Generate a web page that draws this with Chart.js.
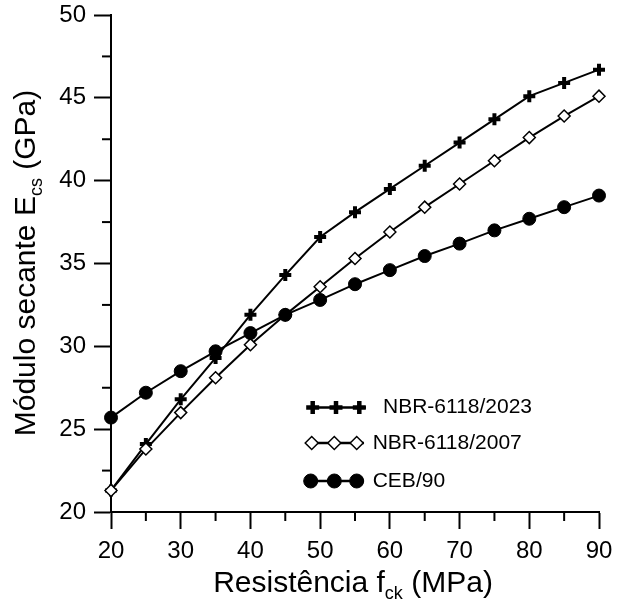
<!DOCTYPE html>
<html>
<head>
<meta charset="utf-8">
<script src="https://cdn.jsdelivr.net/npm/chart.js@4/dist/chart.umd.min.js"></script>
<style>
  html, body { margin: 0; padding: 0; background: #fff; }
  #wrap { width: 623px; height: 600px; }
</style>
</head>
<body>
<div id="wrap"><canvas id="modulo" width="623" height="600"></canvas></div>
<script>
// fck (MPa)
const fck = [20, 25, 30, 35, 40, 45, 50, 55, 60, 65, 70, 75, 80, 85, 90];
// Ecs (GPa) per norma
const nbr2023 = [21.3, 24.1, 26.8, 29.3, 31.9, 34.3, 36.6, 38.1, 39.5, 40.9, 42.3, 43.7, 45.1, 45.9, 46.7];
const nbr2007 = [21.3, 23.8, 26.0, 28.1, 30.1, 31.9, 33.6, 35.3, 36.9, 38.4, 39.8, 41.2, 42.6, 43.9, 45.1];
const ceb90 = [25.7, 27.2, 28.5, 29.7, 30.8, 31.9, 32.8, 33.75, 34.6, 35.45, 36.2, 37.0, 37.7, 38.4, 39.1];
const xTicks = [20, 30, 40, 50, 60, 70, 80, 90];
const yTicks = [20, 25, 30, 35, 40, 45, 50];
const legendNames = ['NBR-6118/2023', 'NBR-6118/2007', 'CEB/90'];

const FONT = '"Liberation Sans", Arial, sans-serif';

function pares(ys) {
    return fck.map((x, i) => ({ x: x, y: ys[i] }));
}

const estilos = [
    { pointStyle: 'cross', radius: 6, borderWidth: 4, fill: '#000' },
    { pointStyle: 'rectRot', radius: 6, borderWidth: 1.5, fill: '#fff' },
    { pointStyle: 'circle', radius: 6.5, borderWidth: 1, fill: '#000' }
];

// ticks menores + titulos com subscrito + legenda
const extras = {
    id: 'extras',
    afterDraw(chart) {
        const ctx = chart.ctx;
        const xs = chart.scales.x, ys = chart.scales.y;
        const area = chart.chartArea;
        ctx.save();
        ctx.strokeStyle = '#000';
        ctx.lineWidth = 2;
        for (let v = 25; v < 90; v += 10) {
            const px = xs.getPixelForValue(v);
            ctx.beginPath();
            ctx.moveTo(px, area.bottom);
            ctx.lineTo(px, area.bottom + 9);
            ctx.stroke();
        }
        for (let v = 22.5; v < 50; v += 5) {
            const py = ys.getPixelForValue(v);
            ctx.beginPath();
            ctx.moveTo(area.left, py);
            ctx.lineTo(area.left - 9, py);
            ctx.stroke();
        }

        // titulos
        ctx.fillStyle = '#000';
        ctx.textBaseline = 'alphabetic';
        function rico(parts, size) {
            let w = 0;
            parts.forEach(p => {
                ctx.font = (p.sub ? size * 0.6 : size) + 'px ' + FONT;
                p.w = ctx.measureText(p.t).width;
                w += p.w;
            });
            return w;
        }
        function desenha(parts, size, x0, base) {
            let x = x0;
            parts.forEach(p => {
                ctx.font = (p.sub ? size * 0.6 : size) + 'px ' + FONT;
                ctx.fillText(p.t, x, p.sub ? base + size * 0.22 : base);
                x += p.w;
            });
        }
        const tx = [{ t: 'Resistência f' }, { t: 'ck', sub: true }, { t: ' (MPa)' }];
        let w = rico(tx, 30);
        desenha(tx, 30, 353 - w / 2, 592);

        const ty = [{ t: 'Módulo secante E' }, { t: 'cs', sub: true }, { t: ' (GPa)' }];
        w = rico(ty, 30);
        ctx.save();
        ctx.translate(35, 263);
        ctx.rotate(-Math.PI / 2);
        desenha(ty, 30, -w / 2, 0);
        ctx.restore();

        // legenda
        const linhas = [
            { y: 407.5, x0: 307, x1: 366, m: [312.7, 336, 359.3], tx: 383 },
            { y: 443, x0: 306, x1: 364, m: [311.7, 334.3, 356.7], tx: 372.7 },
            { y: 481, x0: 306, x1: 364, m: [310.7, 334.3, 356.7], tx: 372.7 }
        ];
        const legEst = [
            { pointStyle: 'cross', radius: 6.5, borderWidth: 4.5 },
            { pointStyle: 'rectRot', radius: 6.5, borderWidth: 1.5 },
            { pointStyle: 'circle', radius: 7, borderWidth: 1 }
        ];
        linhas.forEach((l, i) => {
            ctx.strokeStyle = '#000';
            ctx.lineWidth = 2.5;
            ctx.beginPath();
            ctx.moveTo(l.x0, l.y);
            ctx.lineTo(l.x1, l.y);
            ctx.stroke();
            const e = legEst[i];
            l.m.forEach(mx => {
                ctx.fillStyle = estilos[i].fill;
                ctx.strokeStyle = '#000';
                ctx.lineWidth = e.borderWidth;
                Chart.helpers.drawPoint(ctx, { pointStyle: e.pointStyle, radius: e.radius, rotation: 0, borderWidth: e.borderWidth }, mx, l.y);
            });
            ctx.fillStyle = '#000';
            ctx.font = '21px ' + FONT;
            ctx.textBaseline = 'middle';
            ctx.fillText(legendNames[i], l.tx, l.y);
        });
        ctx.restore();
    }
};

const series = [nbr2023, nbr2007, ceb90];
const datasets = series.map((s, i) => ({
    label: legendNames[i],
    data: pares(s),
    borderColor: '#000',
    borderWidth: 2,
    pointStyle: estilos[i].pointStyle,
    pointRadius: estilos[i].radius,
    pointHoverRadius: estilos[i].radius,
    pointBorderWidth: estilos[i].borderWidth,
    pointBorderColor: '#000',
    pointBackgroundColor: estilos[i].fill,
    tension: 0,
    clip: false,
    order: [2, 1, 0][i]
}));

const configModulo = {
    type: 'line',
    data: { datasets: datasets },
    options: {
        responsive: false,
        animation: false,
        events: [],
        layout: { padding: { top: 15, right: 24, left: 0, bottom: 0 } },
        plugins: { legend: { display: false }, tooltip: { enabled: false } },
        scales: {
            x: {
                type: 'linear',
                min: 20, max: 90,
                afterFit: s => { s.height = 88; s.paddingLeft = 0; s.paddingRight = 0; },
                afterBuildTicks: s => { s.ticks = xTicks.map(v => ({ value: v })); },
                border: { color: '#000', width: 2 },
                grid: { drawOnChartArea: false, tickLength: 17, tickWidth: 2, tickColor: '#000' },
                ticks: { color: '#000', font: { family: FONT, size: 24 }, padding: 8, maxRotation: 0 }
            },
            y: {
                min: 20, max: 50,
                afterFit: s => { s.width = 111; s.paddingTop = 0; s.paddingBottom = 0; },
                afterBuildTicks: s => { s.ticks = yTicks.map(v => ({ value: v })); },
                border: { color: '#000', width: 2 },
                grid: { drawOnChartArea: false, tickLength: 17, tickWidth: 2, tickColor: '#000' },
                ticks: { color: '#000', font: { family: FONT, size: 24 }, padding: 8 }
            }
        }
    },
    plugins: [extras]
};

const graficoModulo = new Chart(document.getElementById('modulo'), configModulo);
</script>
</body>
</html>
